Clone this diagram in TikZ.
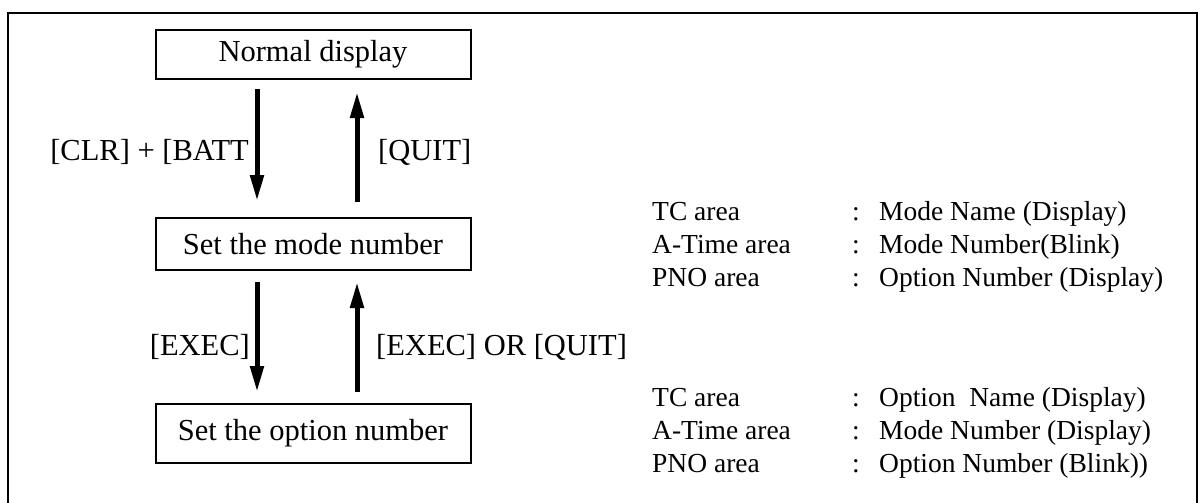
\documentclass[tikz,border=0pt]{standalone}
\usepackage{fontspec}
\setmainfont{Liberation Serif}
\usetikzlibrary{arrows.meta}
\begin{document}
\begin{tikzpicture}[x=1pt,y=-1pt,
  box/.style={draw, line width=2pt, minimum width=315pt, inner sep=0pt, font=\fontsize{30.5}{36}\selectfont},
  flowarrow/.style={line width=5pt, -{Triangle[length=26pt,width=13pt]}},
  lbl/.style={inner sep=0pt, font=\fontsize{30.5}{36}\selectfont},
  info/.style={inner sep=0pt, anchor=base west, font=\fontsize{27.5}{33}\selectfont},
  frameline/.style={line width=2.2pt}]
\useasboundingbox (0,0) rectangle (1202,503);
% outer frame (open at the bottom)
\draw[frameline] (8,510) -- (8,13) -- (1197,13) -- (1197,510);

% boxes
\node[box, minimum height=49pt] (nd) at (313,54.5) {Normal display};
\node[box, minimum height=52pt] (md) at (313,244) {Set the mode number};
\node[box, minimum height=59pt] (od) at (313,433.5) {Set the option number};

% arrows
\draw[flowarrow, shorten <=9pt, shorten >=16pt] ([xshift=-56pt]nd.south) -- ([xshift=-56pt]md.north);
\draw[flowarrow, shorten <=15pt, shorten >=12pt] ([xshift=44pt]md.north) -- ([xshift=44pt]nd.south);
\draw[flowarrow, shorten <=11pt, shorten >=11pt] ([xshift=-56pt]md.south) -- ([xshift=-56pt]od.north);
\draw[flowarrow, shorten <=11pt, shorten >=11pt] ([xshift=44pt]od.north) -- ([xshift=44pt]md.south);

% arrow labels
\node[lbl, anchor=base east] (l1) at (249,160) {[CLR] + [BATT};
\node[lbl, anchor=base west] (l2) at (378,160) {[QUIT]};
\node[lbl, anchor=base east] (l3) at (250,355) {[EXEC]};
\node[lbl, anchor=base west] (l4) at (376,355) {[EXEC] OR [QUIT]};

% right-hand information
\node[info] (a1) at (652,220) {TC area};
\node[info] (a2) at (652,253) {A-Time area};
\node[info] (a3) at (652,286) {PNO area};
\node[info] (c1) at (852,220) {:};
\node[info] (c2) at (852,253) {:};
\node[info] (c3) at (852,286) {:};
\node[info] (v1) at (879,220) {Mode Name (Display)};
\node[info] (v2) at (879,253) {Mode Number(Blink)};
\node[info] (v3) at (879,286) {Option Number (Display)};

\node[info] (b1) at (652,406) {TC area};
\node[info] (b2) at (652,439) {A-Time area};
\node[info] (b3) at (652,472) {PNO area};
\node[info] (d1) at (852,406) {:};
\node[info] (d2) at (852,439) {:};
\node[info] (d3) at (852,472) {:};
\node[info] (w1) at (879,406) {Option\ \ Name (Display)};
\node[info] (w2) at (879,439) {Mode Number (Display)};
\node[info] (w3) at (879,472) {Option Number (Blink))};
\end{tikzpicture}
\end{document}
